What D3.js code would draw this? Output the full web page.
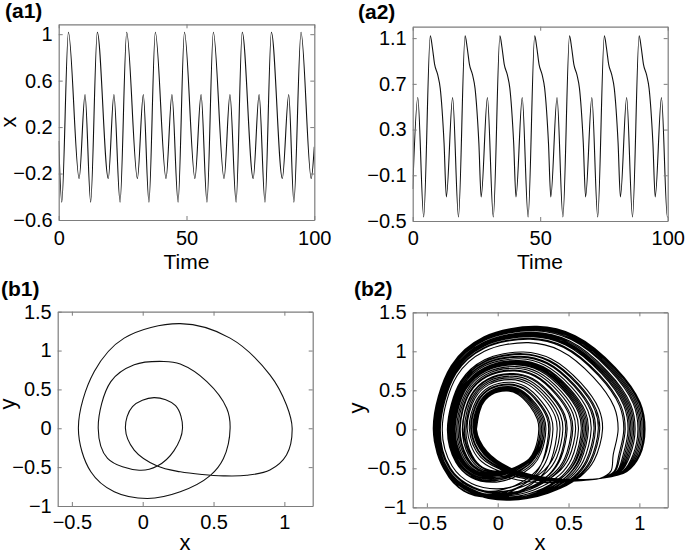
<!DOCTYPE html>
<html><head><meta charset="utf-8">
<script src="https://cdn.jsdelivr.net/npm/d3@7"></script>
<style>
body{margin:0;background:#fff}
svg{display:block}
text{font-family:"Liberation Sans",Arial,Helvetica,sans-serif}
</style>
</head><body>
<svg id="c" width="685" height="554"></svg>
<script>
// ---------------- data ----------------
// (a1) time series: extrema
const a1Time = [0,1.2,3.8,8.0,10.3,12.5,15.1,19.4,21.6,24.0,26.6,30.8,33.1,35.3,37.8,42.0,44.3,46.7,49.2,53.3,55.7,58.0,60.5,64.7,67.0,69.4,71.8,76.1,78.4,80.7,83.2,87.5,90.0,92.0,94.8,98.8,100];
const a1X    = [0.08,-0.446,1.017,-0.243,0.48,-0.446,1.017,-0.243,0.48,-0.446,1.017,-0.243,0.48,-0.446,1.017,-0.243,0.48,-0.446,1.017,-0.243,0.48,-0.446,1.017,-0.243,0.48,-0.446,1.017,-0.243,0.48,-0.446,1.017,-0.243,0.48,-0.446,1.017,-0.243,0.03];

// (a2) time series
const a2Time = [0,
  2.0,4.3,6.9,7.7,8.6,9.8,10.8,11.5,12.3,13.2,
  15.65,17.95,20.55,21.35,22.25,23.45,24.45,25.15,25.95,26.85,
  29.3,31.6,34.2,35.0,35.9,37.1,38.1,38.8,39.6,40.5,
  42.95,45.25,47.85,48.65,49.55,50.75,51.75,52.45,53.25,54.15,
  56.6,58.9,61.5,62.3,63.2,64.4,65.4,66.1,66.9,67.8,
  70.25,72.55,75.15,75.95,76.85,78.05,79.05,79.75,80.55,81.45,
  83.9,86.2,88.8,89.6,90.5,91.7,92.7,93.4,94.2,95.1,
  97.55,99.85,100];
const a2X = [-0.22,
  0.58,-0.465,1.12,1.02,0.87,0.78,0.66,0.48,0.18,-0.29,
  0.58,-0.465,1.12,1.02,0.87,0.78,0.66,0.48,0.18,-0.29,
  0.58,-0.465,1.12,1.02,0.87,0.78,0.66,0.48,0.18,-0.29,
  0.58,-0.465,1.12,1.02,0.87,0.78,0.66,0.48,0.18,-0.29,
  0.58,-0.465,1.12,1.02,0.87,0.78,0.66,0.48,0.18,-0.29,
  0.58,-0.465,1.12,1.02,0.87,0.78,0.66,0.48,0.18,-0.29,
  0.58,-0.465,1.12,1.02,0.87,0.78,0.66,0.48,0.18,-0.29,
  0.58,-0.465,-0.46];

// (b1) closed period-2 orbit
const b1X = [1.055,1.015,0.898,0.734,0.57,0.42,0.265,0.103,-0.06,-0.122,-0.072,0.08,0.232,0.281,0.22,0.103,-0.025,-0.248,-0.314,-0.225,-0.06,0.15,0.265,0.453,0.593,0.617,0.57,0.476,0.265,0.033,-0.201,-0.366,-0.454,-0.342,-0.131,0.265,0.617,0.898,1.015];
const b1Y = [0,-0.345,-0.538,-0.605,-0.612,-0.595,-0.56,-0.486,-0.28,0,0.28,0.395,0.29,0,-0.29,-0.486,-0.54,-0.387,0,0.60,0.817,0.86,0.826,0.60,0.258,0,-0.39,-0.61,-0.818,-0.903,-0.818,-0.56,0,0.73,1.16,1.346,1.16,0.688,0.30];

// (b2) chaotic attractor: each episode = right-most x of successive turns
const b2Episodes = [
  [0.29,0.60,1.02],[0.31,0.64,1.04],[0.30,0.52,0.93],[0.32,0.68,1.03],
  [0.29,0.57,0.97],[0.34,0.74,1.01],[0.30,0.44,0.85],[0.36,0.99],
  [0.29,0.62,1.035],[0.31,0.55,0.92],[0.33,0.71,1.02],[0.30,0.49,0.95],
  [0.42,1.00],[0.29,0.59,1.00],[0.32,0.66,1.03],[0.39,0.94],
  [0.30,0.53,0.96],[0.31,0.69,1.04],[0.37,0.89],[0.29,0.61,0.99],
  [0.33,0.46,0.90],[0.30,0.72,1.03],[0.48,0.97],[0.31,0.63,1.01]
];
// turn size -> left extreme / top extreme
const loopR = [0.28,0.62,1.05];
const loopL = [-0.145,-0.315,-0.458];
const loopT = [0.48,0.86,1.33];
const botL  = [-0.46,-0.32,-0.2,-0.14];
const botY  = [-0.92,-0.6,-0.52,-0.5];

// tick labels
const aTimeTicks = [0,50,100];
const a1Ticks = [-0.6,-0.2,0.2,0.6,1];
const a2Ticks = [-0.5,-0.1,0.3,0.7,1.1];
const bXTicks = [-0.5,0,0.5,1];
const bYTicks = [-1,-0.5,0,0.5,1,1.5];

// ---------------- drawing ----------------
const svg = d3.select("#c");
const BOX = "#7d7d7d";
const TICKFS = 20;

function panel(o){
  const x = d3.scaleLinear().domain(o.xd).range([o.x0,o.x1]);
  const y = d3.scaleLinear().domain(o.yd).range([o.y1,o.y0]);
  const id = "clip"+o.id;
  svg.append("clipPath").attr("id",id).append("rect")
    .attr("x",o.x0).attr("y",o.y0).attr("width",o.x1-o.x0).attr("height",o.y1-o.y0);
  const g = svg.append("g");
  const dataG = g.append("g").attr("clip-path",`url(#${id})`);
  const fmt = d => String(d).replace("-","\u2212");
  const ax = [
    g.append("g").attr("transform",`translate(0,${o.y1})`).call(d3.axisBottom(x).tickValues(o.xt).tickSize(-4).tickSizeOuter(0).tickPadding(o.xpad).tickFormat(fmt)),
    g.append("g").attr("transform",`translate(0,${o.y0})`).call(d3.axisTop(x).tickValues(o.xt).tickSize(-4).tickSizeOuter(0).tickFormat("")),
    g.append("g").attr("transform",`translate(${o.x0},0)`).call(d3.axisLeft(y).tickValues(o.yt).tickSize(-4).tickSizeOuter(0).tickPadding(6).tickFormat(fmt)),
    g.append("g").attr("transform",`translate(${o.x1},0)`).call(d3.axisRight(y).tickValues(o.yt).tickSize(-4).tickSizeOuter(0).tickFormat(""))
  ];
  ax.forEach(a=>{
    a.select(".domain").attr("stroke",BOX).attr("stroke-width",1.2);
    a.selectAll(".tick line").attr("stroke",BOX);
    a.selectAll("text").attr("fill","#000").style("font-size",TICKFS+"px").style("font-family",'"Liberation Sans",Arial,sans-serif');
  });
  return {x,y,dataG};
}

// a1
const pa1 = panel({id:"a1",x0:58.7,x1:314.3,y0:24.3,y1:220,xd:[0,100],yd:[-0.6,1.085],xt:aTimeTicks,yt:a1Ticks,xpad:11});
pa1.dataG.append("path")
  .attr("d", d3.line().x(i=>pa1.x(a1Time[i])).y(i=>pa1.y(a1X[i])).curve(d3.curveMonotoneX)(d3.range(a1Time.length)))
  .attr("fill","none").attr("stroke","#111").attr("stroke-width",1.1);

// a2
const pa2 = panel({id:"a2",x0:412.7,x1:667.7,y0:26.7,y1:221,xd:[0,100],yd:[-0.5,1.2],xt:aTimeTicks,yt:a2Ticks,xpad:10});
pa2.dataG.append("path")
  .attr("d", d3.line().x(i=>pa2.x(a2Time[i])).y(i=>pa2.y(a2X[i])).curve(d3.curveMonotoneX)(d3.range(a2Time.length)))
  .attr("fill","none").attr("stroke","#111").attr("stroke-width",1.1);

// b1
const pb1 = panel({id:"b1",x0:57.7,x1:312.7,y0:311.7,y1:506,xd:[-0.6,1.2],yd:[-1,1.5],xt:bXTicks,yt:bYTicks,xpad:9});
pb1.dataG.append("path")
  .attr("d", d3.line().x(i=>pb1.x(b1X[i])).y(i=>pb1.y(b1Y[i])).curve(d3.curveCatmullRomClosed.alpha(0.5))(d3.range(b1X.length)))
  .attr("fill","none").attr("stroke","#111").attr("stroke-width",1.1);

// b2
const pb2 = panel({id:"b2",x0:412.7,x1:667.7,y0:312.3,y1:507.3,xd:[-0.6,1.2],yd:[-1,1.5],xt:bXTicks,yt:bYTicks,xpad:9});
{
  const Lsc = d3.scaleLinear().domain(loopR).range(loopL);
  const Tsc = d3.scaleLinear().domain(loopR).range(loopT);
  const Bsc = d3.scaleLinear().domain(botL).range(botY).clamp(true);
  const Dsc = d3.scaleLinear().domain([-0.145,-0.35]).range([0,1]).clamp(true);
  const upX = [0.085,0.24,0.49,0.67,0.86,0.977], upY = [0.62,0.9,1.0,0.91,0.6,0.26];
  const pts = [];
  let prevR = null;
  const CX = 0.72, CY = -0.63;
  const tail = (R,L) => {
    const d = Dsc(L);
    pts.push([R-0.035,-0.33],[CX+0.6*(R-CX),-0.54],[CX,CY],
      [0.5,-0.64-0.06*d],[0.3,-0.6-0.17*d],[0.1,-0.5-0.27*d],[L+0.075+0.025*d,-0.28-0.3*d]);
  };
  b2Episodes.forEach(ep=>{
    ep.forEach((R,k)=>{
      const L = Lsc(R), T = Tsc(R), w0 = R-L;
      if(prevR!==null){
        if(k===0) tail(prevR,L);
        else {
          const B = Bsc(L), w = prevR-L, bx = (prevR+L)/2-0.03;
          pts.push([prevR-0.05*w,0.45*B],[prevR-0.13*w,0.68*B],[bx+0.215*w,0.91*B],[bx,B],[bx-0.215*w,0.91*B],[L+0.085*w,0.62*B]);
        }
      }
      pts.push([L,0]);
      upX.forEach((f,i)=>pts.push([L+f*w0,upY[i]*T]));
      pts.push([R,0]);
      prevR = R;
    });
  });
  const R0 = b2Episodes[0][0], L0 = Lsc(R0);
  tail(prevR,L0);
  pts.push([L0,0],[L0+upX[0]*(R0-L0),upY[0]*Tsc(R0)]);
  pb2.dataG.append("path")
    .attr("d", d3.line().x(p=>pb2.x(p[0])).y(p=>pb2.y(p[1])).curve(d3.curveCatmullRom.alpha(0.5))(pts))
    .attr("fill","none").attr("stroke","#000").attr("stroke-width",1.1);
}

// labels
function txt(t,x,y,fs,opt={}){
  const e = svg.append("text").text(t).attr("x",x).attr("y",y).style("font-size",fs+"px").attr("fill","#000");
  if(opt.anchor) e.attr("text-anchor",opt.anchor);
  if(opt.bold) e.style("font-weight","bold");
  if(opt.rot) e.attr("transform",`rotate(-90,${x},${y})`);
  return e;
}
txt("(a1)",5,18,21,{bold:true});
txt("(a2)",358,19,21,{bold:true});
txt("(b1)",1,296,21,{bold:true});
txt("(b2)",354,296,21,{bold:true});
txt("x",16,122,22,{anchor:"middle",rot:true});
txt("Time",186.5,269,21,{anchor:"middle"});
txt("Time",540,269,21,{anchor:"middle"});
txt("y",15,404,22,{anchor:"middle",rot:true});
txt("x",185,550,22,{anchor:"middle"});
txt("y",364,408,22,{anchor:"middle",rot:true});
txt("x",540,550,22,{anchor:"middle"});
</script>
</body></html>
